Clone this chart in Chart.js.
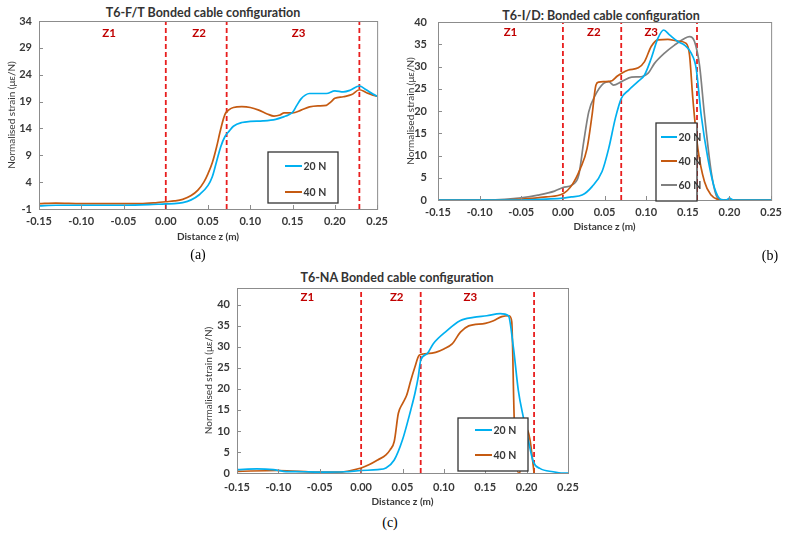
<!DOCTYPE html>
<html>
<head>
<meta charset="utf-8">
<script src="https://cdn.jsdelivr.net/npm/chart.js@4.4.0/dist/chart.umd.min.js"></script>
<style>
  html, body { margin: 0; padding: 0; background: #fff; width: 788px; height: 533px; overflow: hidden; }
  canvas { position: absolute; }
  .ttl { position: absolute; font: bold 12.5px Lato, sans-serif; color: #333; white-space: nowrap; transform: translate(-50%, -50%); }
  .cap { position: absolute; font: 14px "Liberation Serif", serif; color: #000; transform: translate(-50%, -50%); }
</style>
</head>
<body>
<div class="ttl" style="left:203px;top:12px">T6-F/T Bonded cable configuration</div>
<div class="ttl" style="left:601px;top:15px">T6-I/D: Bonded cable configuration</div>
<div class="ttl" style="left:397px;top:277px">T6-NA Bonded cable configuration</div>
<canvas id="chartA" width="394" height="245" style="left:0;top:0"></canvas>
<canvas id="chartB" width="394" height="245" style="left:394px;top:0"></canvas>
<canvas id="chartC" width="400" height="255" style="left:190px;top:260px"></canvas>
<div class="cap" style="left:198px;top:255px">(a)</div>
<div class="cap" style="left:770px;top:256px">(b)</div>
<div class="cap" style="left:390px;top:523px">(c)</div>
<script>
// Panel (a) T6-F/T
const aX20 = [-0.15, -0.13, -0.1, -0.05, -0.02, 0, 0.01, 0.02, 0.03, 0.04, 0.05, 0.055, 0.06, 0.065, 0.07, 0.075, 0.08, 0.09, 0.1, 0.115, 0.13, 0.14, 0.145, 0.15, 0.155, 0.16, 0.165, 0.17, 0.18, 0.19, 0.2, 0.21, 0.218, 0.229, 0.237, 0.245, 0.25];
const aY20 = [-0.4, -0.3, -0.3, -0.3, -0.2, -0.05, 0.0, 0.2, 0.7, 1.7, 3.4, 5.0, 7.8, 10.6, 12.5, 13.5, 14.4, 15.1, 15.3, 15.4, 15.7, 16.2, 16.5, 17.0, 18.3, 19.5, 20.2, 20.5, 20.5, 20.5, 21.0, 20.8, 21.1, 21.9, 21.2, 20.4, 20.0];
const aX40 = [-0.15, -0.13, -0.1, -0.05, -0.03, -0.01, 0, 0.01, 0.02, 0.03, 0.038, 0.045, 0.05, 0.055, 0.06, 0.065, 0.07, 0.075, 0.08, 0.09, 0.1, 0.11, 0.12, 0.128, 0.135, 0.14, 0.15, 0.16, 0.17, 0.18, 0.19, 0.195, 0.2, 0.21, 0.22, 0.229, 0.237, 0.245, 0.25];
const aY40 = [0.0, 0.1, 0.0, 0.0, 0.0, 0.2, 0.35, 0.5, 0.8, 1.5, 2.5, 4.0, 5.6, 7.6, 10.5, 13.9, 16.6, 17.5, 17.9, 18.05, 17.9, 17.4, 16.7, 16.3, 16.5, 16.9, 16.9, 17.4, 18.0, 18.2, 18.3, 18.9, 19.6, 19.9, 20.3, 21.2, 20.7, 20.2, 20.0];
const zonesA = [0, 0.072, 0.229];
const zoneLabelXA = [-0.067, 0.0395, 0.157];

// Panel (b) T6-I/D
const bX20 = [-0.15, -0.05, -0.02, 0, 0.01, 0.023, 0.035, 0.047, 0.055, 0.063, 0.07, 0.079, 0.09, 0.098, 0.106, 0.114, 0.121, 0.128, 0.138, 0.146, 0.154, 0.16, 0.166, 0.174, 0.182, 0.19, 0.196, 0.2, 0.205, 0.25];
const bY20 = [0, 0, 0.2, 0.4, 0.7, 1.1, 3.0, 6.4, 11.6, 18.4, 22.8, 24.7, 26.6, 28.1, 31.8, 36.3, 38.2, 37.1, 35.6, 34.8, 33.0, 29.6, 19.1, 9.4, 2.7, 0.1, 0, 0.4, 0, 0];
const bX40 = [-0.15, -0.08, -0.05, -0.02, 0, 0.011, 0.021, 0.029, 0.035, 0.0396, 0.043, 0.05, 0.059, 0.065, 0.0706, 0.0786, 0.0905, 0.098, 0.106, 0.114, 0.126, 0.138, 0.148, 0.152, 0.156, 0.162, 0.17, 0.178, 0.185, 0.2, 0.25];
const bY40 = [0, 0, 0.2, 0.7, 1.4, 3.4, 7.1, 11.6, 19.1, 25.8, 26.5, 26.6, 26.8, 27.8, 28.5, 29.2, 29.7, 31.1, 34.5, 36.0, 36.1, 35.7, 35.2, 32.6, 22.8, 11.6, 4.1, 1.1, 0.2, 0, 0];
const bX60 = [-0.15, -0.09, -0.07, -0.05, -0.03, -0.01, 0, 0.011, 0.019, 0.025, 0.031, 0.039, 0.0488, 0.055, 0.0607, 0.0706, 0.0825, 0.094, 0.1024, 0.11, 0.122, 0.134, 0.146, 0.152, 0.158, 0.164, 0.17, 0.178, 0.184, 0.19, 0.25];
const bY60 = [0, 0, 0.15, 0.5, 1.1, 2.0, 2.8, 3.4, 5.6, 13.1, 19.8, 23.6, 26.2, 26.6, 25.8, 26.6, 27.6, 27.7, 28.5, 30.7, 33.0, 34.8, 36.3, 36.7, 35.6, 30.3, 19.1, 6.4, 1.1, 0, 0];
const zonesB = [0, 0.07, 0.161];
const zoneLabelXB = [-0.063, 0.037, 0.106];

// Panel (c) T6-NA
const cX20 = [-0.15, -0.126, -0.106, -0.094, -0.07, -0.05, -0.02, 0, 0.02, 0.03, 0.04, 0.05, 0.06, 0.065, 0.069, 0.072, 0.08, 0.087, 0.1034, 0.1195, 0.1356, 0.1518, 0.168, 0.178, 0.184, 0.19, 0.196, 0.202, 0.208, 0.216, 0.232, 0.244, 0.25];
const cY20 = [0.8, 1.0, 0.8, 0.4, 0.3, 0.2, 0.3, 0.6, 0.8, 1.2, 3.1, 7.9, 15.0, 18.9, 22.8, 26.8, 28.4, 30.7, 33.8, 36.2, 37.0, 37.4, 37.9, 37.4, 29.9, 19.6, 13.3, 7.8, 2.7, 1.1, 0.3, 0, 0];
const cX40 = [-0.15, -0.1, -0.05, -0.03, 0, 0.01, 0.02, 0.03, 0.035, 0.04, 0.045, 0.05, 0.055, 0.06, 0.065, 0.07, 0.075, 0.09, 0.1, 0.11, 0.12, 0.13, 0.15, 0.16, 0.17, 0.179, 0.182, 0.185, 0.19, 0.192, 0.194, 0.2, 0.204, 0.209];
const cY40 = [0.4, 0.6, 0.2, 0.2, 1.2, 2.0, 3.1, 4.3, 5.5, 7.5, 14.2, 16.5, 18.5, 22.0, 25.2, 28.0, 28.3, 28.7, 29.5, 30.7, 33.5, 35.0, 35.6, 36.2, 37.2, 37.4, 36.0, 13.0, 0, 0, 9.0, 10.5, 8.0, 0];
const zonesC = [0, 0.072, 0.209];
const zoneLabelXC = [-0.065, 0.043, 0.132];

const zoneNames = ['Z1', 'Z2', 'Z3'];

const blue = 'rgb(0,176,240)';
const orange = 'rgb(197,90,17)';
const grey = 'rgb(128,128,128)';
const red = '#e81e1e';
const darkRed = '#c00000';
const textColor = '#383838';

Chart.defaults.font.family = 'Lato, sans-serif';

function pts(xs, ys) {
    return xs.map((x, i) => ({ x: x, y: ys[i] }));
}

function curve(label, xs, ys, color) {
    return {
        label: label,
        data: pts(xs, ys),
        borderColor: color,
        borderWidth: 1.7,
        pointRadius: 0,
        tension: 0.4,
        cubicInterpolationMode: 'monotone',
        fill: false
    };
}

function zoneLines(zones, yMin, yMax) {
    return zones.map(z => ({
        label: '',
        zone: true,
        data: [{ x: z, y: yMin }, { x: z, y: yMax }],
        borderColor: red,
        borderWidth: 1.8,
        borderDash: [5, 3],
        pointRadius: 0
    }));
}

// zone names, frame, inner tick marks and the boxed legend
const panelDecor = {
    id: 'panelDecor',
    afterDatasetsDraw(chart, args, opts) {
        const ctx = chart.ctx;
        const a = chart.chartArea;
        const xs = chart.scales.x;
        const ys = chart.scales.y;
        ctx.save();

        ctx.fillStyle = darkRed;
        ctx.font = 'bold 11.5px Lato, sans-serif';
        ctx.textAlign = 'center';
        ctx.textBaseline = 'middle';
        opts.zoneLabelX.forEach((zx, i) => {
            ctx.fillText(zoneNames[i], xs.getPixelForValue(zx), ys.getPixelForValue(opts.zoneLabelY));
        });

        ctx.strokeStyle = '#8c8c8c';
        ctx.lineWidth = 1;
        ctx.beginPath();
        xs.ticks.forEach(t => {
            const px = Math.round(xs.getPixelForValue(t.value)) + 0.5;
            ctx.moveTo(px, a.bottom);
            ctx.lineTo(px, a.bottom - 4);
        });
        ys.ticks.forEach(t => {
            const py = Math.round(ys.getPixelForValue(t.value)) + 0.5;
            ctx.moveTo(a.left, py);
            ctx.lineTo(a.left + 4, py);
        });
        ctx.stroke();
        ctx.strokeRect(a.left + 0.5, a.top + 0.5, a.right - a.left, a.bottom - a.top);

        const lg = opts.legend;
        ctx.fillStyle = '#fff';
        ctx.fillRect(lg.x, lg.y, lg.w, lg.h);
        ctx.strokeStyle = '#333';
        ctx.lineWidth = 1.3;
        ctx.strokeRect(lg.x, lg.y, lg.w, lg.h);
        ctx.font = 'bold 10.5px Lato, sans-serif';
        ctx.textAlign = 'left';
        chart.data.datasets.filter(d => !d.zone).forEach((d, i) => {
            ctx.strokeStyle = d.borderColor;
            ctx.lineWidth = 2;
            ctx.beginPath();
            ctx.moveTo(lg.x0, lg.rows[i]);
            ctx.lineTo(lg.x1, lg.rows[i]);
            ctx.stroke();
            ctx.fillStyle = textColor;
            ctx.fillText(d.label, lg.x1 + 1.5, lg.rows[i] + 0.5);
        });
        ctx.restore();
    }
};

function makePanel(canvasId, datasets, p) {
    return new Chart(document.getElementById(canvasId), {
        type: 'line',
        data: { datasets: datasets },
        options: {
            responsive: false,
            animation: false,
            devicePixelRatio: 1,
            layout: { padding: { left: 0, right: p.padR, top: p.padT, bottom: 0 } },
            scales: {
                x: {
                    type: 'linear',
                    min: -0.15,
                    max: 0.25,
                    grid: { display: false, drawTicks: false },
                    border: { display: false },
                    ticks: {
                        stepSize: 0.05,
                        padding: p.xTickPad,
                        autoSkip: false,
                        maxRotation: 0,
                        color: textColor,
                        font: { size: 11, weight: 'bold' },
                        callback: v => (Math.abs(v) < 1e-9 ? 0 : v).toFixed(2)
                    },
                    title: {
                        display: true,
                        text: 'Distance z (m)',
                        color: textColor,
                        font: { size: 10, weight: 'bold' },
                        padding: { top: 0, bottom: p.xTitlePad }
                    },
                    afterFit: s => { s.height = p.xAxisH; }
                },
                y: {
                    min: p.yMin,
                    max: p.yMax,
                    grid: { display: false, drawTicks: false },
                    border: { display: false },
                    ticks: {
                        stepSize: 5,
                        includeBounds: false,
                        padding: p.yTickPad,
                        color: textColor,
                        font: { size: 11, weight: 'bold' }
                    },
                    title: {
                        display: true,
                        text: 'Normalised strain (με/N)',
                        color: textColor,
                        font: { size: 10 },
                        padding: { top: p.yTitlePad, bottom: 0 }
                    },
                    afterFit: s => { s.width = p.yAxisW; }
                }
            },
            plugins: {
                legend: { display: false },
                tooltip: { enabled: false },
                panelDecor: {
                    zoneLabelX: p.zoneLabelX,
                    zoneLabelY: p.zoneLabelY,
                    legend: p.legend
                }
            }
        },
        plugins: [panelDecor]
    });
}

makePanel('chartA', [
    curve('20 N', aX20, aY20, blue),
    curve('40 N', aX40, aY40, orange)
].concat(zoneLines(zonesA, -1, 34)), {
    yMin: -1, yMax: 34,
    padT: 21, padR: 13, yAxisW: 39, xAxisH: 36,
    yTickPad: 7, xTickPad: 6, yTitlePad: 5.7, xTitlePad: 2.3,
    zoneLabelX: zoneLabelXA, zoneLabelY: 31.8,
    legend: { x: 268, y: 152, w: 70, h: 51, x0: 285, x1: 302, rows: [166, 192] }
});

makePanel('chartB', [
    curve('20 N', bX20, bY20, blue),
    curve('40 N', bX40, bY40, orange),
    curve('60 N', bX60, bY60, grey)
].concat(zoneLines(zonesB, 0, 40)), {
    yMin: 0, yMax: 40,
    padT: 22, padR: 14, yAxisW: 44, xAxisH: 45,
    yTickPad: 11, xTickPad: 6, yTitlePad: 10.7, xTitlePad: 12,
    zoneLabelX: zoneLabelXB, zoneLabelY: 37.75,
    legend: { x: 262, y: 123, w: 41, h: 78, x0: 267, x1: 283, rows: [137, 161, 185] }
});

makePanel('chartC', [
    curve('20 N', cX20, cY20, blue),
    curve('40 N', cX40, cY40, orange)
].concat(zoneLines(zonesC, 0, 44)), {
    yMin: 0, yMax: 44,
    padT: 28, padR: 22, yAxisW: 47, xAxisH: 42,
    yTickPad: 7, xTickPad: 8, yTitlePad: 12.3, xTitlePad: 7.3,
    zoneLabelX: zoneLabelXC, zoneLabelY: 41.7,
    legend: { x: 268, y: 158, w: 70, h: 53, x0: 285, x1: 302, rows: [170, 195] }
});
</script>
</body>
</html>
